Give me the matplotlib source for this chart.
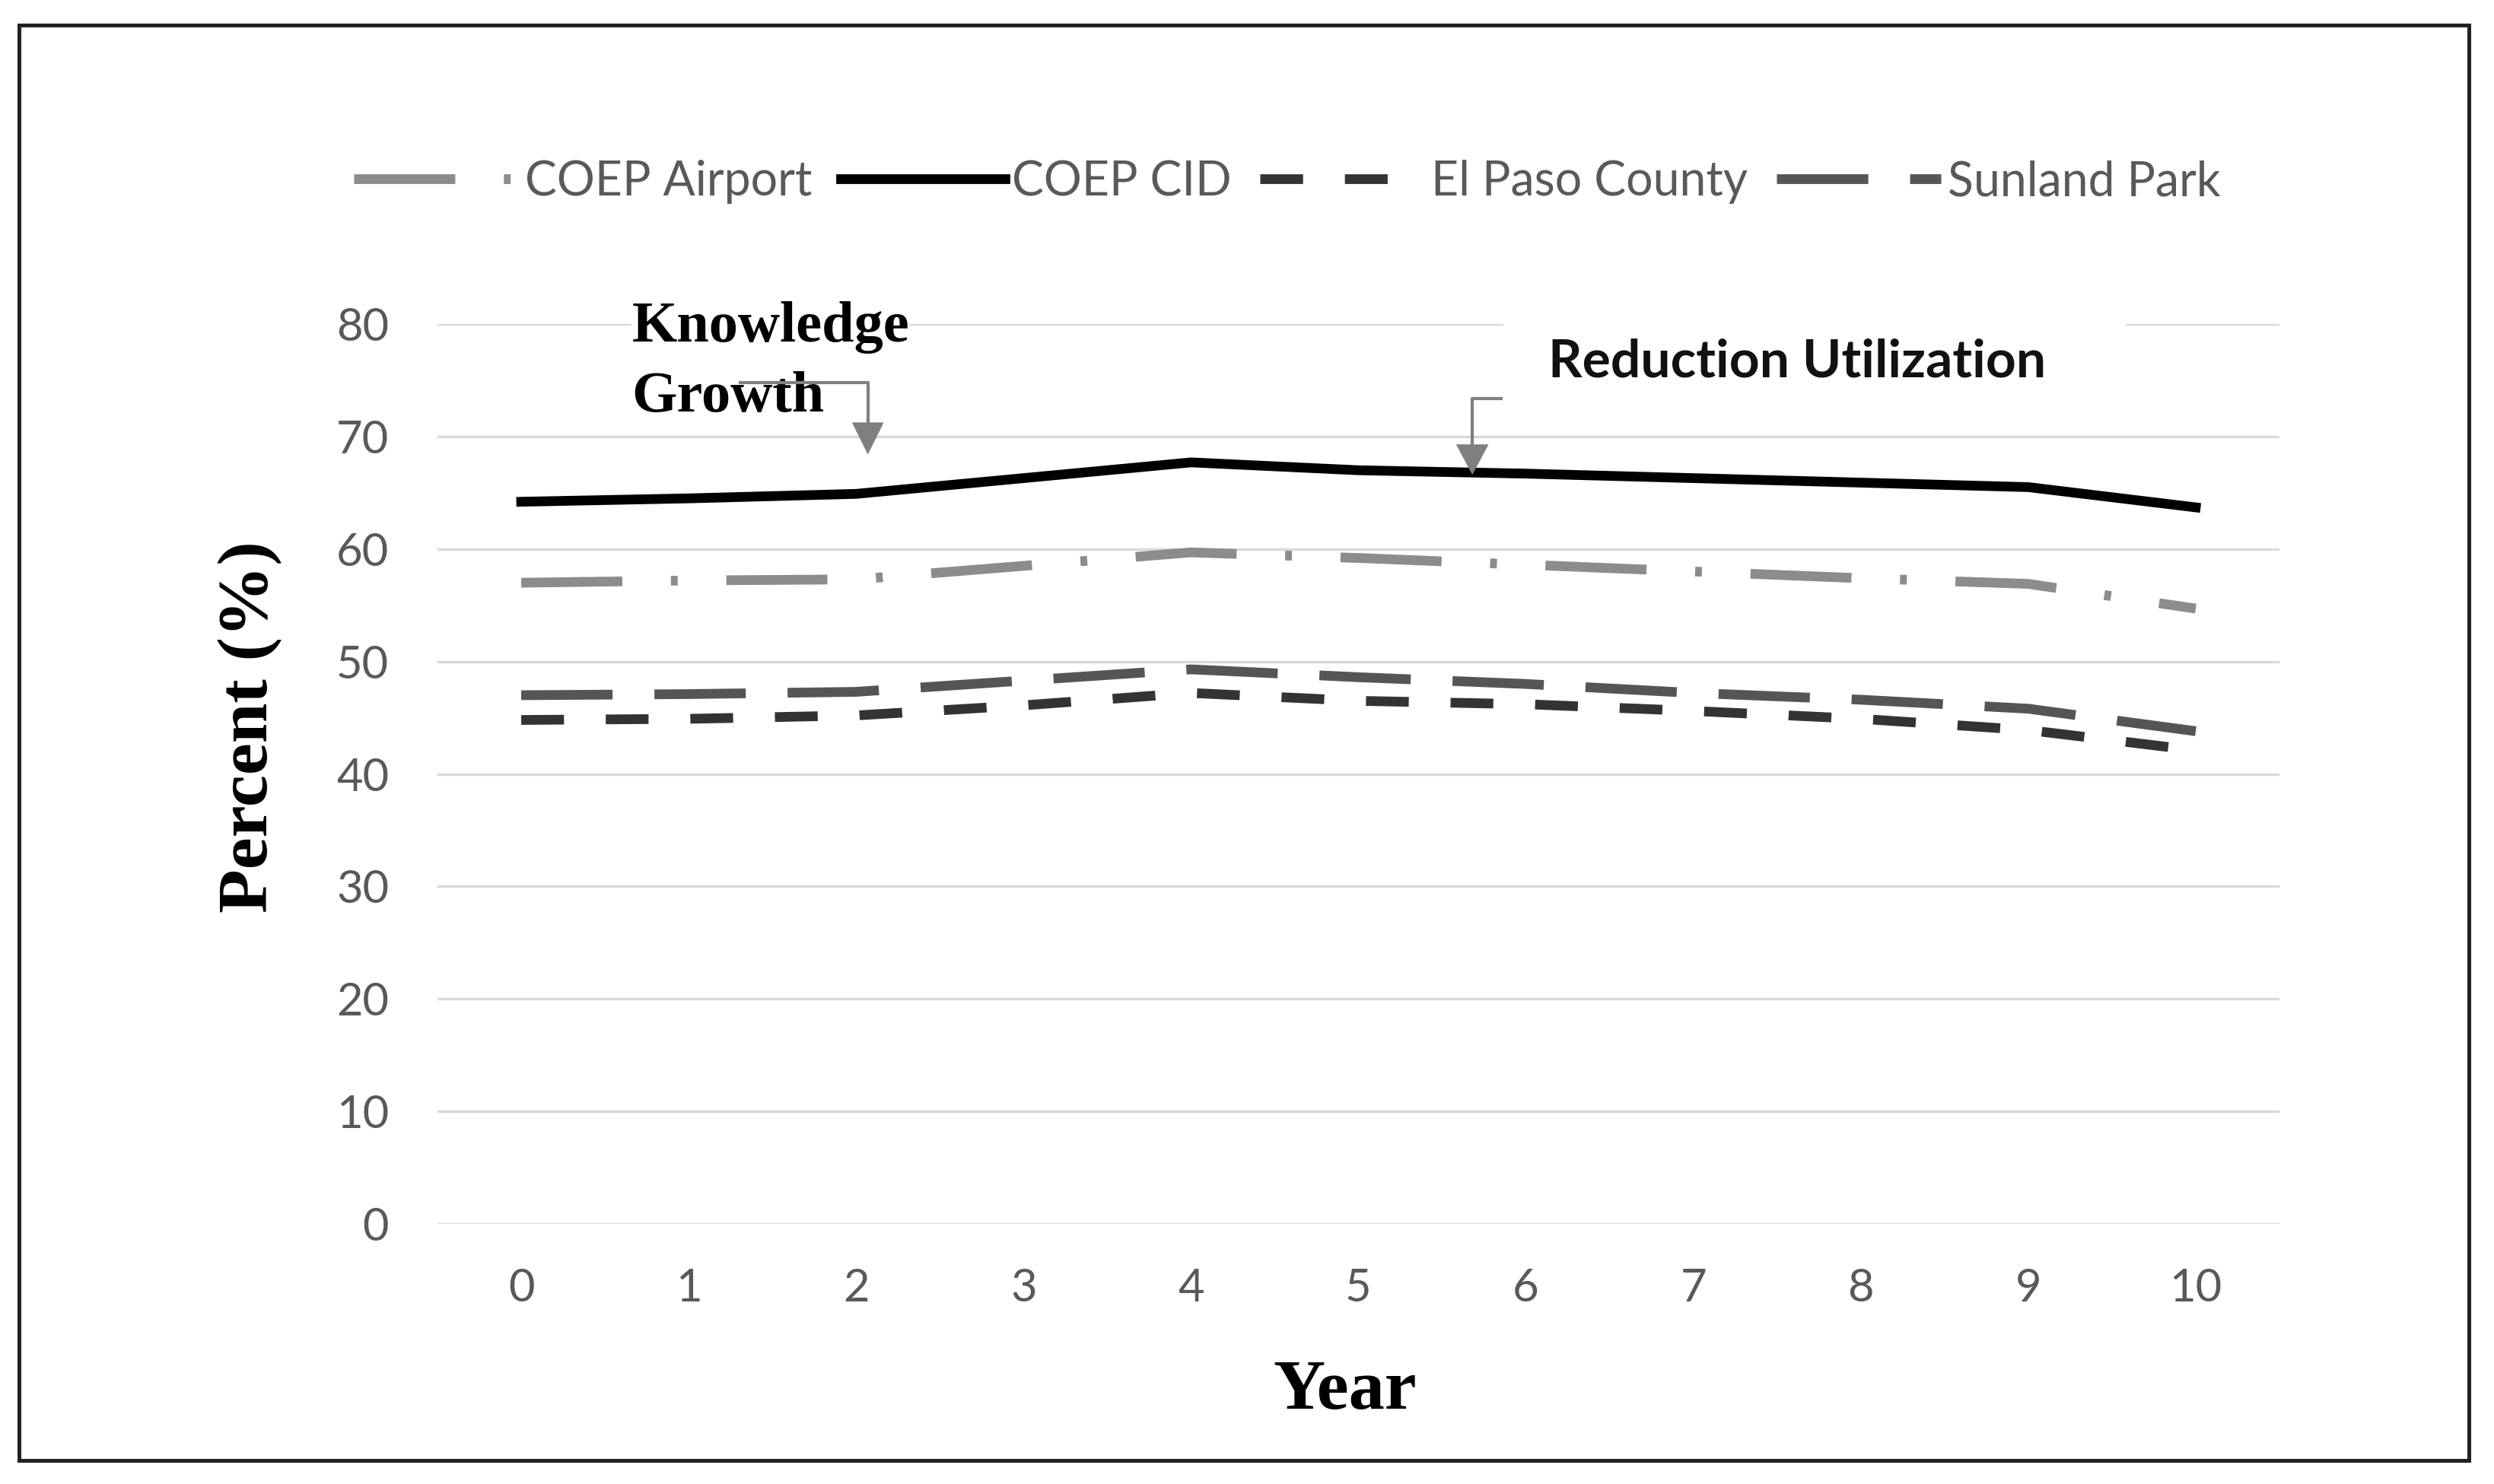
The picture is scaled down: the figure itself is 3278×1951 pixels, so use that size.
import matplotlib
matplotlib.use("Agg")
import matplotlib.pyplot as plt
from matplotlib.patches import Rectangle, Polygon

# ---- data ----
years = [0, 1, 2, 3, 4, 5, 6, 7, 8, 9, 10]
coep_airport = [57.0, 57.2, 57.3, 58.5, 59.7, 59.2, 58.6, 58.0, 57.4, 56.9, 54.7]
coep_cid = [64.2, 64.5, 64.9, 66.3, 67.7, 67.0, 66.7, 66.3, 65.9, 65.5, 63.7]
el_paso_county = [44.8, 44.9, 45.2, 46.1, 47.2, 46.5, 46.2, 45.6, 44.9, 43.9, 42.1]
sunland_park = [47.0, 47.1, 47.3, 48.3, 49.3, 48.6, 48.0, 47.2, 46.6, 45.8, 43.8]
series_names = ["COEP Airport", "COEP CID", "El Paso County", "Sunland Park"]
y_ticks = [0, 10, 20, 30, 40, 50, 60, 70, 80]

W, H, DPI = 3278, 1951, 200
fig = plt.figure(figsize=(W / DPI, H / DPI), dpi=DPI)
fig.patch.set_facecolor("white")

def fx(px):
    return px / W

def fy(py):
    return 1 - py / H

ax = fig.add_axes([fx(575), fy(1609), fx(2996) - fx(575), fy(426) - fy(1609)])
ax.set_xlim(-0.5, 10.5)
ax.set_ylim(0, 80)
ax.set_axisbelow(True)
ax.yaxis.grid(True, color="#d9d9d9", linewidth=1.2)
ax.xaxis.grid(False)
for s in ax.spines.values():
    s.set_visible(False)
ax.set_xticks(years)
ax.set_yticks(y_ticks)
ax.tick_params(axis="both", length=0, labelsize=21.5, labelcolor="#595959")
ax.tick_params(axis="y", pad=23)
ax.tick_params(axis="x", pad=21)
for lab in ax.get_xticklabels() + ax.get_yticklabels():
    lab.set_fontfamily("Lato")

LW = 4.6
l_air, = ax.plot(years, coep_airport, color="#8c8c8c", lw=LW,
                 linestyle=(0, (10.4, 5.0, 0.7, 5.0)), label=series_names[0], zorder=4)
l_cid, = ax.plot(years, coep_cid, color="#000000", lw=LW,
                 linestyle="-", label=series_names[1], zorder=4)
l_ep, = ax.plot(years, el_paso_county, color="#333333", lw=LW,
                linestyle=(0, (4.4, 4.3)), label=series_names[2], zorder=4)
l_sp, = ax.plot(years, sunland_park, color="#555555", lw=LW,
                linestyle=(0, (9.4, 4.3)), label=series_names[3], zorder=4)

leg = fig.legend(handles=[l_air, l_cid, l_ep, l_sp], loc="center",
                 bbox_to_anchor=(fx(1692), fy(239)), ncol=4, frameon=False,
                 prop={"family": "Lato", "size": 22.5}, handlelength=3.45,
                 handletextpad=0.15, columnspacing=0.6, borderpad=0)
for t in leg.get_texts():
    t.set_color("#595959")

# axis labels
fig.text(fx(329), fy(956), "Percent (%)", rotation=90, ha="center", va="center",
         fontfamily="Liberation Serif", fontweight="bold", fontsize=34)
fig.text(fx(1768), fy(1852), "Year", ha="center", va="baseline",
         fontfamily="Liberation Serif", fontweight="bold", fontsize=34)

# annotations
arrow_col = "#7f7f7f"
ax.text(0.66, 78.45, "Knowledge", ha="left", va="baseline", fontfamily="Liberation Serif",
        fontweight="bold", fontsize=27.5, zorder=6,
        bbox=dict(facecolor="white", edgecolor="none", pad=0))
ax.text(0.66, 72.2, "Growth", ha="left", va="baseline", fontfamily="Liberation Serif",
        fontweight="bold", fontsize=27.5, zorder=6)

# knowledge arrow (elbow)
kx0, kx1, ky0, ktip = 1.30, 2.07, 74.8, 68.4
ax.plot([kx0, kx1, kx1], [ky0, ky0, ktip + 2.6], color=arrow_col, lw=1.5,
        solid_capstyle="butt", zorder=7, clip_on=False)
ax.add_patch(Polygon([[kx1 - 0.095, ktip + 2.85], [kx1 + 0.095, ktip + 2.85], [kx1, ktip]],
                     closed=True, facecolor=arrow_col, edgecolor="none", zorder=7))

# white box behind reduction label
ax.add_patch(Rectangle((5.865, 74.5), 9.58 - 5.865, 8.0, facecolor="white",
                       edgecolor="none", zorder=2, clip_on=False))
fig.text(fx(2035), fy(495), "Reduction Utilization", ha="left", va="baseline",
         fontfamily="Lato", fontweight="bold", fontsize=25, color="#111111")

rx0, rx1, ry0, rtip = 5.86, 5.68, 73.4, 66.6
ax.plot([rx0, rx1, rx1], [ry0, ry0, rtip + 2.5], color=arrow_col, lw=1.5,
        solid_capstyle="butt", zorder=7)
ax.add_patch(Polygon([[rx1 - 0.097, rtip + 2.7], [rx1 + 0.097, rtip + 2.7], [rx1, rtip]],
                     closed=True, facecolor=arrow_col, edgecolor="none", zorder=7))

# outer frame
fig.patches.append(Rectangle((fx(25), fy(1920)), fx(3245) - fx(25), fy(33) - fy(1920),
                             transform=fig.transFigure, facecolor="none",
                             edgecolor="#222222", linewidth=1.8))

fig.savefig("out.png", dpi=DPI, facecolor="white")
